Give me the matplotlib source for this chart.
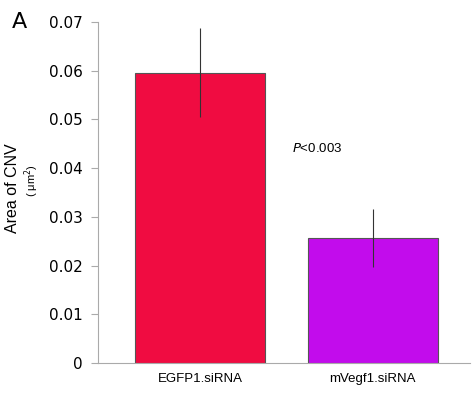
import numpy as np
import matplotlib
matplotlib.use("Agg")
import matplotlib.pyplot as plt

groups = ["EGFP1.siRNA", "mVegf1.siRNA"]
area = [0.0595, 0.0256]
err_lo = [0.0090, 0.0058]
err_hi = [0.0092, 0.0060]
colors = ["#F00C41", "#C20CEC"]
yticks = [0, 0.01, 0.02, 0.03, 0.04, 0.05, 0.06, 0.07]
ytick_labels = ["0", "0.01", "0.02", "0.03", "0.04", "0.05", "0.06", "0.07"]

fig = plt.figure(figsize=(4.74, 3.93), dpi=100)
ax = fig.add_axes([0.207, 0.0763, 0.785, 0.868])

x = np.arange(len(groups))
ax.bar(x, area, width=0.754, color=colors, edgecolor="#555555", linewidth=0.8, zorder=2)
ax.errorbar(x, area, yerr=[err_lo, err_hi], fmt="none", ecolor="#333333",
            elinewidth=0.8, capsize=0, zorder=3)

ax.set_xlim(-0.591, 1.565)
ax.set_ylim(0, 0.07)
ax.set_yticks(yticks)
ax.set_yticklabels(ytick_labels, fontsize=11)
ax.set_xticks(x)
ax.set_xticklabels(groups, fontsize=9.5, family="Liberation Sans")
ax.tick_params(axis="x", length=0, pad=7)
ax.tick_params(axis="y", length=5, color="#aaaaaa", pad=6)
for side in ["top", "right"]:
    ax.spines[side].set_visible(False)
for side in ["left", "bottom"]:
    ax.spines[side].set_color("#aaaaaa")
    ax.spines[side].set_linewidth(0.8)

fig.text(0.027, 0.52, "Area of CNV", rotation=90, fontsize=11.5,
         family="Liberation Sans", ha="center", va="center")
fig.text(0.066, 0.54, "( \u03bcm$^2$)", rotation=90, fontsize=8,
         family="Liberation Sans", ha="center", va="center")
fig.text(0.025, 0.945, "A", fontsize=16, ha="left", va="center")
ax.text(0.678, 0.0441, "$P$<0.003", fontsize=9.5, family="Liberation Sans",
        ha="center", va="center")

fig.savefig("out.png", dpi=100)
